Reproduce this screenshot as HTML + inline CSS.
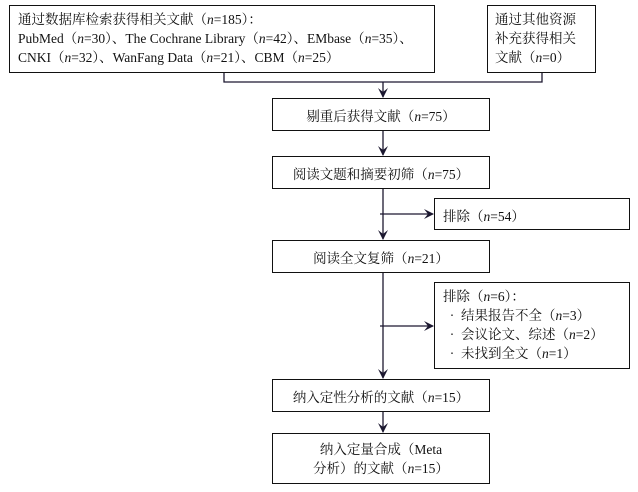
<!DOCTYPE html>
<html><head><meta charset="utf-8"><style>
body{margin:0;width:638px;height:492px;background:#fff;position:relative;overflow:hidden;font-family:"Liberation Serif","Noto Serif CJK SC","Noto Sans CJK SC",serif;color:#111;font-size:13.5px}
.b{position:absolute;border:1.3px solid #111;box-sizing:border-box;background:#fff}
.c{display:flex;align-items:center;justify-content:center;text-align:center}
i{font-style:italic}
svg{position:absolute;left:0;top:0}
</style></head><body>
<svg width="638" height="492">
<defs><marker id="a" markerWidth="10" markerHeight="10" refX="9" refY="5" orient="auto" markerUnits="userSpaceOnUse"><path d="M0,0 L10,5 L0,10 L4,5z" fill="#1c1830"/></marker></defs>
<g stroke="#1c1830" stroke-width="1.3" fill="none">
<path d="M224,72 V82 H542 V72"/>
<path d="M383,82 V97" marker-end="url(#a)"/>
<path d="M383,130 V155" marker-end="url(#a)"/>
<path d="M383,188 V239" marker-end="url(#a)"/>
<path d="M380,214 H433" marker-end="url(#a)"/>
<path d="M383,272 V378" marker-end="url(#a)"/>
<path d="M380,326 H433" marker-end="url(#a)"/>
<path d="M383,411 V432" marker-end="url(#a)"/>
</g></svg>
<div class="b" style="left:9px;top:5px;width:426px;height:68px;padding:4px 0 0 8px;line-height:19px">通过数据库检索获得相关文献（<i>n</i>=185）：<br>PubMed（<i>n</i>=30）、The Cochrane Library（<i>n</i>=42）、EMbase（<i>n</i>=35）、<br>CNKI（<i>n</i>=32）、WanFang Data（<i>n</i>=21）、CBM（<i>n</i>=25）</div>
<div class="b" style="left:487px;top:5px;width:109px;height:68px;padding:4px 0 0 7px;line-height:19px">通过其他资源<br>补充获得相关<br>文献（<i>n</i>=0）</div>
<div class="b c" style="left:272px;top:98px;width:218px;height:33px"><span>剔重后获得文献（<i>n</i>=75）</span></div>
<div class="b c" style="left:272px;top:156px;width:218px;height:33px"><span>阅读文题和摘要初筛（<i>n</i>=75）</span></div>
<div class="b" style="left:434px;top:198px;width:196px;height:32px;padding:6px 0 0 8px">排除（<i>n</i>=54）</div>
<div class="b c" style="left:272px;top:240px;width:218px;height:33px"><span>阅读全文复筛（<i>n</i>=21）</span></div>
<div class="b" style="left:434px;top:282px;width:196px;height:87px;padding:4px 0 0 8px;line-height:19px">排除（<i>n</i>=6）：<br>&nbsp;&nbsp;·&nbsp; 结果报告不全（<i>n</i>=3）<br>&nbsp;&nbsp;·&nbsp; 会议论文、综述（<i>n</i>=2）<br>&nbsp;&nbsp;·&nbsp; 未找到全文（<i>n</i>=1）</div>
<div class="b c" style="left:272px;top:379px;width:218px;height:33px"><span>纳入定性分析的文献（<i>n</i>=15）</span></div>
<div class="b c" style="left:272px;top:433px;width:218px;height:51px;line-height:19px"><span>纳入定量合成（Meta<br>分析）的文献（<i>n</i>=15）</span></div>
</body></html>
